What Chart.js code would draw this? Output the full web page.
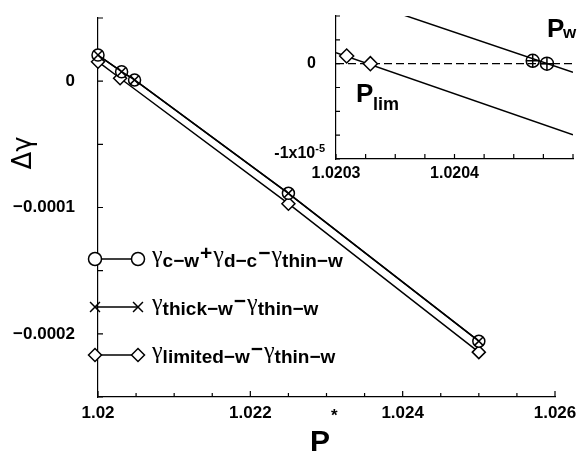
<!DOCTYPE html>
<html>
<head>
<meta charset="utf-8">
<script src="https://cdn.jsdelivr.net/npm/chart.js@4/dist/chart.umd.min.js"></script>
<style>
  body { margin: 0; background: #fff; }
  #wrap { position: relative; width: 587px; height: 454px; }
  #chart-inset { position: absolute; left: 250px; top: 0; }
</style>
</head>
<body>
<div id="wrap">
  <canvas id="chart-main" width="587" height="454"></canvas>
  <canvas id="chart-inset" width="337" height="190"></canvas>
</div>
<script>
// grafico principal: P* x delta gamma
var pStarX = [1.0200, 1.02031, 1.02048, 1.0225, 1.0250];
var gammaCw = [2.07e-5, 7.5e-6, 1.0e-6, -8.88e-5, -2.058e-4];
var gammaThick = [2.07e-5, 7.5e-6, 1.0e-6, -8.88e-5, -2.058e-4];
var limX = [1.0200, 1.02029, 1.0225, 1.0250];
var gammaLim = [1.54e-5, 2.3e-6, -9.7e-5, -2.145e-4];

// inset (zoom perto de zero)
var insetRangeX = [1.0203, 1.0205];
var insetZeroY = [0, 0];
var insetUpY = [7.5e-6, -0.9e-6];
var insetLowY = [1.15e-6, -7.45e-6];
var pLimX = [1.020309, 1.020329];
var pLimY = [8e-7, 0];
var pWX = [1.020466, 1.020478];
var pWY = [3e-7, 0];

// legenda: [texto, tipo] g = gamma, s = subscrito, o = operador
var legendStyles = ['circle', 'crossRot', 'rectRot'];
var legendRuns = [
  [['γ', 'g'], ['c−w', 's'], ['+', 'o'], ['γ', 'g'], ['d−c', 's'], ['−', 'o'], ['γ', 'g'], ['thin−w', 's']],
  [['γ', 'g'], ['thick−w', 's'], ['−', 'o'], ['γ', 'g'], ['thin−w', 's']],
  [['γ', 'g'], ['limited−w', 's'], ['−', 'o'], ['γ', 'g'], ['thin−w', 's']]
];

function pts(xs, ys) {
  return xs.map(function(x, i) { return { x: x, y: ys[i] }; });
}

Chart.defaults.font.family = '"Liberation Sans", Arial, sans-serif';
Chart.defaults.color = '#000';
Chart.defaults.animation = false;

function marker(ctx, style, x, y, r) {
  ctx.beginPath();
  if (style === 'circle') {
    ctx.arc(x, y, r, 0, 2 * Math.PI);
    ctx.fill(); ctx.stroke();
  } else if (style === 'rectRot') {
    ctx.moveTo(x - r, y); ctx.lineTo(x, y - r); ctx.lineTo(x + r, y); ctx.lineTo(x, y + r);
    ctx.closePath(); ctx.fill(); ctx.stroke();
  } else {
    var d = r * Math.SQRT1_2;
    ctx.moveTo(x - d, y - d); ctx.lineTo(x + d, y + d);
    ctx.moveTo(x + d, y - d); ctx.lineTo(x - d, y + d);
    ctx.stroke();
  }
}

function drawRuns(ctx, x, y, runs) {
  var fonts = { g: '24px "Liberation Serif"', s: 'bold 19px "Liberation Sans"', o: 'bold 21px "Liberation Sans"' };
  var dy = { g: 3, s: 8, o: 1 };
  var gap = { g: 0, s: 0, o: 1 };
  runs.forEach(function(r) {
    ctx.font = fonts[r[1]];
    x += gap[r[1]];
    ctx.fillText(r[0], x, y + dy[r[1]]);
    x += ctx.measureText(r[0]).width + gap[r[1]];
  });
}

// ticks para dentro do grafico
function drawTicks(chart, xMajor, xMinor, yMajor, yMinor) {
  var ctx = chart.ctx, xs = chart.scales.x, ys = chart.scales.y;
  var x0 = xs.top, y0 = ys.right;
  ctx.save();
  ctx.strokeStyle = '#000';
  ctx.lineWidth = 1.2;
  ctx.beginPath();
  xs.ticks.forEach(function(t) {
    var px = xs.getPixelForValue(t.value);
    ctx.moveTo(px, x0);
    ctx.lineTo(px, x0 - (t.label ? xMajor : xMinor));
  });
  ys.ticks.forEach(function(t) {
    var py = ys.getPixelForValue(t.value);
    ctx.moveTo(y0, py);
    ctx.lineTo(y0 + (t.label ? yMajor : yMinor), py);
  });
  ctx.stroke();
  ctx.restore();
}

var mainDecor = {
  id: 'mainDecor',
  afterDraw: function(chart) {
    var ctx = chart.ctx, a = chart.chartArea;
    drawTicks(chart, 6, 4, 5, 5);
    ctx.save();
    // legenda
    legendRuns.forEach(function(runs, i) {
      var y = a.top + 241 + i * 48;
      var x0 = a.left - 3, x1 = a.left + 40;
      ctx.strokeStyle = '#000'; ctx.lineWidth = 1.5; ctx.fillStyle = '#fff';
      ctx.beginPath(); ctx.moveTo(x0, y); ctx.lineTo(x1, y); ctx.stroke();
      marker(ctx, legendStyles[i], x0, y, i === 1 ? 7 : 6.5);
      marker(ctx, legendStyles[i], x1, y, i === 1 ? 7 : 6.5);
      ctx.fillStyle = '#000';
      ctx.textBaseline = 'alphabetic';
      ctx.textAlign = 'left';
      drawRuns(ctx, a.left + 54, y, runs);
    });
    // titulos dos eixos
    ctx.fillStyle = '#000';
    ctx.save();
    ctx.translate(24, 153);
    ctx.rotate(-Math.PI / 2);
    ctx.font = '26px "DejaVu Sans"';
    ctx.textAlign = 'center';
    ctx.textBaseline = 'middle';
    ctx.fillText('Δγ', 0, 0);
    ctx.restore();
    ctx.textAlign = 'left';
    ctx.textBaseline = 'alphabetic';
    ctx.font = 'bold 30px "Liberation Sans"';
    ctx.fillText('P', 310, 451);
    ctx.font = 'bold 17px "Liberation Sans"';
    ctx.fillText('*', 331, 421);
    ctx.restore();
  }
};

var insetDecor = {
  id: 'insetDecor',
  afterDraw: function(chart) {
    var ctx = chart.ctx, a = chart.chartArea, ys = chart.scales.y;
    drawTicks(chart, 5, 5, 4, 4);
    ctx.save();
    ctx.fillStyle = '#000';
    ctx.textBaseline = 'alphabetic';
    // rotulo -1x10^-5
    var right = a.left - 11, base = ys.getPixelForValue(-1e-5) - 1;
    ctx.font = 'bold 11px "Liberation Sans"';
    ctx.textAlign = 'right';
    ctx.fillText('-5', right, base - 6);
    var w = ctx.measureText('-5').width;
    ctx.font = 'bold 16px "Liberation Sans"';
    ctx.fillText('-1x10', right - w, base);
    // P_w e P_lim
    ctx.textAlign = 'left';
    ctx.font = 'bold 26px "Liberation Sans"';
    ctx.fillText('P', a.right - 26, 37);
    ctx.fillText('P', a.left + 20, 102);
    ctx.font = 'bold 17px "Liberation Sans"';
    ctx.fillText('w', a.right - 26 + 16, 38);
    ctx.font = 'bold 18px "Liberation Sans"';
    ctx.fillText('lim', a.left + 37, 110);
    ctx.restore();
  }
};

var axisBorder = { display: true, color: '#000', width: 1.2 };

function fixX(h) {
  return function(s) { s.height = h; s.paddingLeft = 0; s.paddingRight = 0; };
}
function fixY(w) {
  return function(s) { s.width = w; s.paddingTop = 0; s.paddingBottom = 0; };
}

new Chart(document.getElementById('chart-main'), {
  type: 'scatter',
  data: {
    datasets: [
      { data: pts(pStarX, gammaThick), showLine: true, borderColor: '#000', borderWidth: 1.5,
        pointStyle: 'crossRot', pointRadius: 6, pointBorderWidth: 1.5, clip: false, order: 0 },
      { data: pts(pStarX, gammaCw), showLine: true, borderColor: '#000', borderWidth: 1.5,
        pointStyle: 'circle', pointRadius: 6, pointBorderWidth: 1.5, pointBackgroundColor: '#fff', clip: false, order: 1 },
      { data: pts(limX, gammaLim), showLine: true, borderColor: '#000', borderWidth: 1.5,
        pointStyle: 'rectRot', pointRadius: 6.5, pointBorderWidth: 1.5, pointBackgroundColor: '#fff', clip: false, order: 2 }
    ]
  },
  options: {
    responsive: false,
    events: [],
    layout: { padding: { top: 18, right: 32, left: 0, bottom: 0 } },
    plugins: { legend: { display: false }, tooltip: { enabled: false } },
    scales: {
      x: {
        type: 'linear', min: 1.02, max: 1.026,
        grid: { display: false }, border: axisBorder,
        ticks: {
          stepSize: 0.0005, autoSkip: false, maxRotation: 0, padding: -2,
          font: { size: 17, weight: 'bold' },
          callback: function(v) {
            var k = Math.round((v - 1.02) / 0.0005);
            return k % 4 === 0 ? (1.02 + k * 0.0005).toFixed(3).replace(/0+$/, '') : '';
          }
        },
        afterFit: fixX(57)
      },
      y: {
        min: -0.00025, max: 0.00005,
        grid: { display: false }, border: axisBorder,
        ticks: {
          stepSize: 0.00005, autoSkip: false, padding: 15,
          font: { size: 17, weight: 'bold' },
          callback: function(v) {
            var k = Math.round(v / 0.00005);
            if (k === 0) return '0';
            if (k < 0 && k % 2 === 0 && k >= -4) return '−0.000' + (-k / 2);
            return '';
          }
        },
        afterFit: fixY(98)
      }
    }
  },
  plugins: [mainDecor]
});

new Chart(document.getElementById('chart-inset'), {
  type: 'scatter',
  data: {
    datasets: [
      { data: pts(pWX, pWY), pointStyle: 'cross', pointRadius: 6.5, borderColor: '#000', pointBorderWidth: 1.5, clip: false, order: 0 },
      { data: pts(pWX, pWY), pointStyle: 'circle', pointRadius: 6.5, borderColor: '#000', pointBorderWidth: 1.5,
        pointBackgroundColor: 'rgba(0,0,0,0)', clip: false, order: 1 },
      { data: pts(pLimX, pLimY), pointStyle: 'rectRot', pointRadius: 7, borderColor: '#000', pointBorderWidth: 1.5,
        pointBackgroundColor: '#fff', clip: false, order: 2 },
      { data: pts(insetRangeX, insetUpY), showLine: true, borderColor: '#000', borderWidth: 1.5, pointRadius: 0, order: 3 },
      { data: pts(insetRangeX, insetLowY), showLine: true, borderColor: '#000', borderWidth: 1.5, pointRadius: 0, order: 4 },
      { data: pts(insetRangeX, insetZeroY), showLine: true, borderColor: '#000', borderWidth: 1.2, borderDash: [8, 4],
        pointRadius: 0, order: 5 }
    ]
  },
  options: {
    responsive: false,
    events: [],
    layout: { padding: { top: 16, right: 14, left: 0, bottom: 0 } },
    plugins: { legend: { display: false }, tooltip: { enabled: false } },
    scales: {
      x: {
        type: 'linear', min: 1.0203, max: 1.0205,
        grid: { display: false }, border: axisBorder,
        ticks: {
          stepSize: 0.000025, autoSkip: false, maxRotation: 0, padding: -3,
          font: { size: 16, weight: 'bold' },
          callback: function(v) {
            var k = Math.round((v - 1.0203) / 0.000025);
            return (k % 4 === 0 && k < 8) ? (1.0203 + k * 0.000025).toFixed(4) : '';
          }
        },
        afterFit: fixX(31)
      },
      y: {
        min: -1e-5, max: 5e-6,
        grid: { display: false }, border: axisBorder,
        ticks: {
          stepSize: 2.5e-6, autoSkip: false, padding: 12,
          font: { size: 16, weight: 'bold' },
          callback: function(v) { return Math.abs(v) < 1e-12 ? '0' : ''; }
        },
        afterFit: fixY(86)
      }
    }
  },
  plugins: [insetDecor]
});
</script>
</body>
</html>
